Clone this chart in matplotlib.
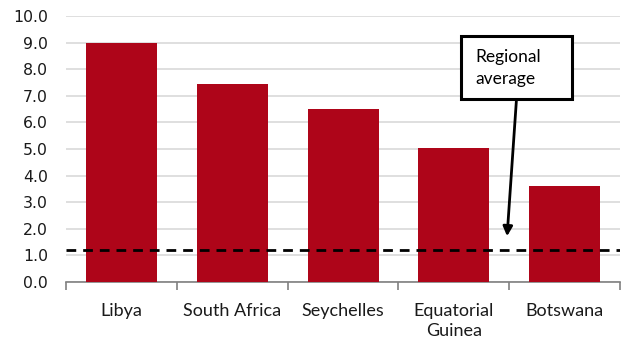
import numpy as np
import matplotlib.pyplot as plt
from matplotlib.patches import Rectangle

# values
countries = ['Libya', 'South Africa', 'Seychelles', 'Equatorial\nGuinea', 'Botswana']
values = [9.0, 7.45, 6.5, 5.05, 3.62]
regional_avg = 1.2
yticks = np.arange(0, 10.1, 1.0)

bar_color = '#AE0519'
grid_color = '#D9D9D9'
axis_color = '#808080'

fig = plt.figure(figsize=(6.22, 3.4), dpi=100)
ax = fig.add_axes([0.106, 0.1706, 0.891, 0.7824])

x = np.arange(len(countries))
ax.bar(x, values, width=0.64, color=bar_color, zorder=3)

# regional average line
ax.axhline(regional_avg, color='black', lw=2, ls=(0, (3.5, 2.5)), zorder=4)

ax.set_xlim(-0.5, len(countries) - 0.5)
ax.set_ylim(0, 10)
ax.set_yticks(yticks)
ax.set_yticklabels([f'{v:.1f}' for v in yticks], fontsize=11.3, family='DejaVu Sans')
ax.tick_params(axis='y', length=0, pad=13, colors='#1a1a1a')
ax.yaxis.grid(True, color=grid_color, lw=1.2, zorder=0)

ax.set_xticks(x)
ax.set_xticklabels(countries, fontsize=13, family='Lato', linespacing=1.3)
ax.set_xticks(np.arange(-0.5, len(countries)), minor=True)
ax.tick_params(axis='x', which='major', length=0, pad=15, colors='#1a1a1a')
ax.tick_params(axis='x', which='minor', length=6, width=1.2, color=axis_color)

for s in ['left', 'right', 'top']:
    ax.spines[s].set_visible(False)
ax.spines['bottom'].set_color(axis_color)
ax.spines['bottom'].set_linewidth(1.2)

# callout box with arrow
ax.add_patch(Rectangle((3.065, 6.88), 1.0, 2.37, fc='white', ec='black', lw=2.2, zorder=6))
ax.text(3.19, 8.06, 'Regional\naverage', ha='left', va='center', fontsize=12.5,
        family='Lato', linespacing=1.45, zorder=7)
ax.annotate('', xy=(3.48, 1.72), xytext=(3.565, 6.88),
            arrowprops=dict(arrowstyle='-|>', lw=2, color='black', mutation_scale=14,
                            shrinkA=0, shrinkB=0), zorder=5)

plt.savefig('out.png', dpi=100)
plt.close()
